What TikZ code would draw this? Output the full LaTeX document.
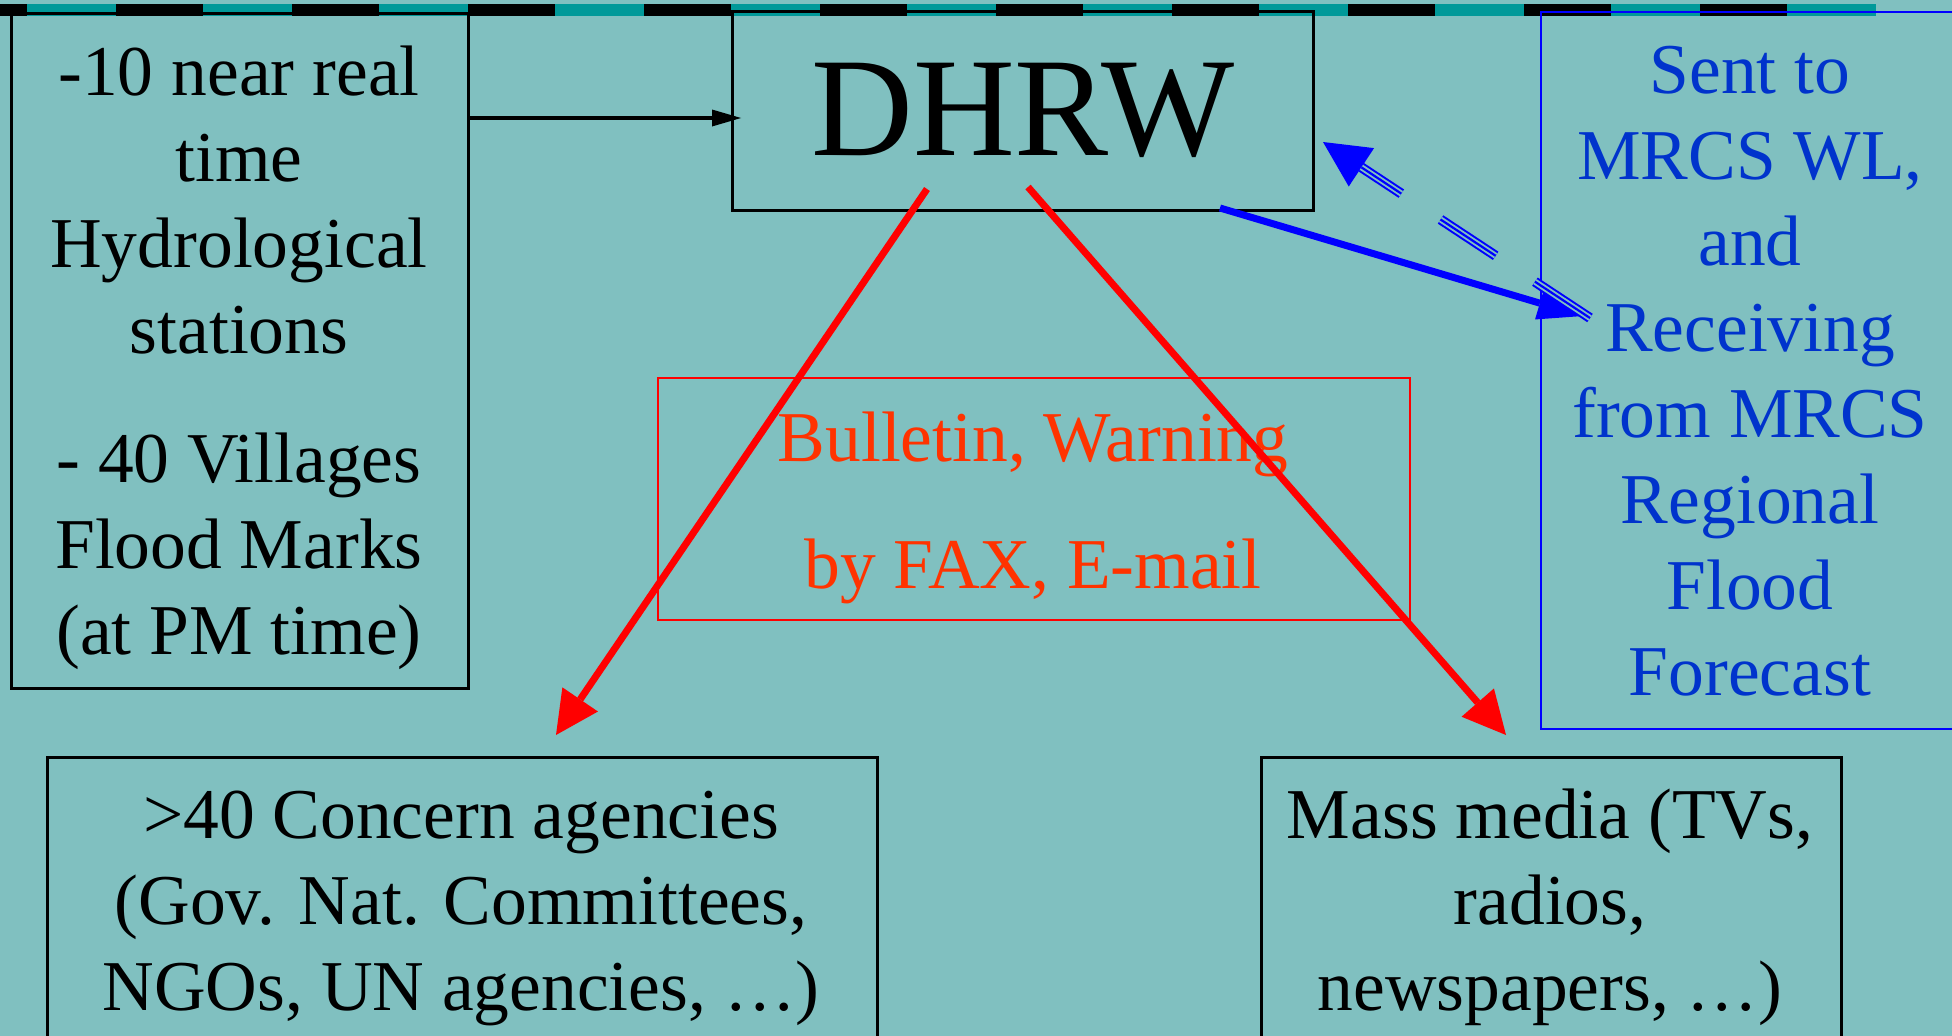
\documentclass[tikz,border=0pt]{standalone}
\usepackage{fontspec}
\setmainfont{Liberation Serif}
\usetikzlibrary{arrows.meta}
\definecolor{bgc}{RGB}{128,192,192}
\definecolor{stripteal}{RGB}{0,153,153}
\definecolor{txtblue}{RGB}{0,51,204}
\definecolor{txtred}{RGB}{255,51,0}
\definecolor{lineblue}{RGB}{0,0,255}
\definecolor{linered}{RGB}{255,0,0}
\begin{document}
\begin{tikzpicture}[x=1pt,y=-1pt,
  box/.style={draw=black, line width=2.5pt, inner sep=0pt, anchor=north west},
  txt/.style={font=\fontsize{71.5}{86}\selectfont, align=center, anchor=base, inner sep=0pt},
  arrblack/.style={draw=black, line width=4pt, -{Triangle[length=29pt,width=17pt,line width=0pt]}},
  arrred/.style={draw=linered, line width=7pt, -{Triangle[length=43pt,width=43pt,line width=0pt]}},
  arrblue/.style={draw=lineblue, line width=7pt, -{Triangle[length=45pt,width=34pt,line width=0pt]}},
  triplepat/.style={dash pattern=on 66pt off 47pt}
]
\useasboundingbox (0,0) rectangle (1952,1036);
\clip (0,0) rectangle (1952,1036);
\fill[bgc] (0,0) rectangle (1952,1036);
% top strip
\fill[stripteal] (0,4) rectangle (1876,16);
\foreach \k in {0,...,10}{
  \pgfmathsetmacro{\xa}{max(0,-60+176*\k)}
  \pgfmathsetmacro{\xb}{27+176*\k}
  \fill[black] (\xa,4) rectangle (\xb,16);
}
% boxes
\node[box, minimum width=457pt, minimum height=675pt] (src) at (10,12) {};
\node[box, minimum width=581pt, minimum height=199pt,
      font=\fontsize{141}{141}\selectfont] (dhrw) at (731,10) {DHRW};
\node[box, draw=lineblue, line width=2pt, minimum width=450pt, minimum height=717pt] (mrcs) at (1540,11) {};
\node[box, draw=linered, line width=1.8pt, minimum width=752pt, minimum height=242pt] (bull) at (657,377) {};
\node[box, minimum width=830pt, minimum height=320pt] (agen) at (46,756) {};
\node[box, minimum width=580pt, minimum height=320pt] (media) at (1260,756) {};
% texts (anchor=base = baseline of the last line)
\node[txt] (srct) at (239,654) {-10 near real\\time\\Hydrological\\stations\\[43pt]- 40 Villages\\Flood Marks\\(at PM time)};
\node[txt, text=txtblue] (mrcst) at (1750,695) {Sent to\\MRCS WL,\\and\\Receiving\\from MRCS\\Regional\\Flood\\Forecast};
\node[txt, text=txtred] (bullt) at (1033,588) {Bulletin, Warning\\[41pt]by FAX, E-mail};
\node[txt] (agent) at (461,1010) {>40 Concern agencies\\(Gov. Nat. Committees,\\NGOs, UN agencies, …)};
\node[txt] (mediat) at (1550,1010) {Mass media (TVs,\\radios,\\newspapers, …)};
% connectors
\coordinate (srcout) at (467,118);
\coordinate (dhrwin) at (741,118);
\draw[arrblack] (srcout) -- (dhrwin);
\coordinate (dl) at (927,189);
\coordinate (dr) at (1028,187);
\coordinate (agin) at (556,735);
\coordinate (mdin) at (1506,735);
\coordinate (dbs) at (1220,208);
\coordinate (mrin) at (1583,316);
\coordinate (mrout) at (1590,318);
\coordinate (dhin) at (1323,142);
\draw[arrblue] (dbs) -- (mrin);
\draw[lineblue, line width=10pt, triplepat, -{Triangle[length=46pt,width=46pt,line width=0pt]}] (mrout) -- (dhin);
\draw[bgc, line width=6pt, triplepat, shorten >=46pt] (mrout) -- (dhin);
\draw[lineblue, line width=2.2pt, triplepat, shorten >=46pt] (mrout) -- (dhin);
\draw[arrred] (dl) -- (agin);
\draw[arrred] (dr) -- (mdin);
\end{tikzpicture}
\end{document}
